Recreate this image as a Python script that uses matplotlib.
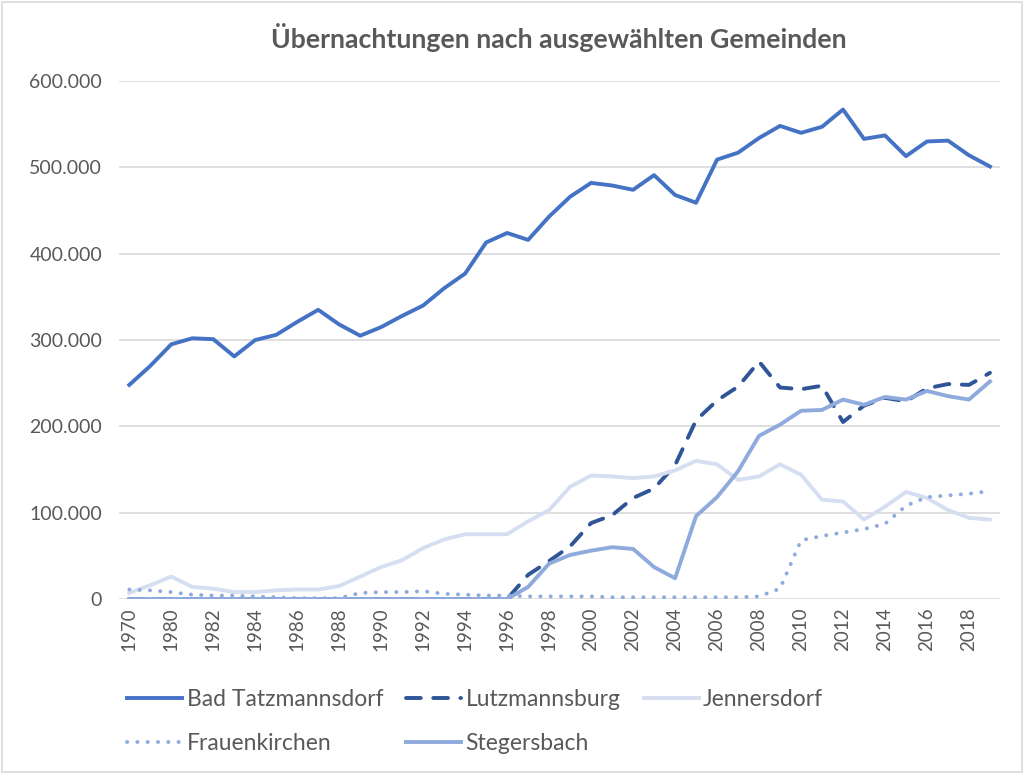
import matplotlib
matplotlib.use("Agg")
import matplotlib.pyplot as plt
from matplotlib.ticker import FuncFormatter
from matplotlib.patches import Rectangle

# --- Data ---
years = ["1970", "1975"] + [str(y) for y in range(1980, 2020)]

bad_tatzmannsdorf = [248000, 270000, 295000, 302000, 301000, 281000, 300000, 306000, 321000, 335000,
                     318000, 305000, 315000, 328000, 340000, 360000, 377000, 413000, 424000, 416000,
                     443000, 466000, 482000, 479000, 474000, 491000, 468000, 459000, 509000, 517000,
                     534000, 548000, 540000, 547000, 567000, 533000, 537000, 513000, 530000, 531000,
                     514000, 501000]

lutzmannsburg = [0, 0, 0, 0, 0, 0, 0, 0, 0, 0,
                 0, 0, 0, 0, 0, 0, 0, 0, 0, 28000,
                 44000, 61000, 88000, 97000, 117000, 128000, 155000, 207000, 230000, 246000,
                 275000, 245000, 243000, 247000, 205000, 224000, 233000, 229000, 244000, 249000,
                 248000, 262000]

jennersdorf = [7000, 16000, 26000, 14000, 12000, 8000, 8000, 10000, 11000, 11000,
               15000, 26000, 37000, 45000, 59000, 69000, 75000, 75000, 75000, 90000,
               103000, 130000, 143000, 142000, 140000, 142000, 149000, 160000, 156000, 138000,
               142000, 156000, 144000, 115000, 113000, 92000, 107000, 124000, 117000, 103000,
               94000, 92000]

frauenkirchen = [11000, 10000, 8000, 5000, 4000, 4000, 3000, 2000, 1000, 1000,
                 1000, 7000, 8000, 8000, 9000, 6000, 5000, 4000, 4000, 3000,
                 3000, 3000, 3000, 2000, 2000, 2000, 2000, 2000, 2000, 2000,
                 3000, 12000, 68000, 73000, 77000, 81000, 87000, 108000, 118000, 120000,
                 122000, 125000]

stegersbach = [0, 0, 0, 0, 0, 0, 0, 0, 0, 0,
               0, 0, 0, 0, 0, 0, 0, 0, 0, 14000,
               41000, 51000, 56000, 60000, 58000, 37000, 24000, 96000, 118000, 148000,
               189000, 202000, 218000, 219000, 231000, 225000, 234000, 231000, 241000, 235000,
               231000, 252000]

title = "Übernachtungen nach ausgewählten Gemeinden"

plt.rcParams['font.family'] = ['Lato', 'DejaVu Sans']
text_col = "#595959"

fig = plt.figure(figsize=(10.24, 7.74), dpi=100)
ax = fig.add_axes([0.116, 0.2261, 0.861, 0.6692])

x = list(range(len(years)))
lw = 2.8
h_bt, = ax.plot(x, bad_tatzmannsdorf, color="#4472C4", lw=lw, label="Bad Tatzmannsdorf",
                solid_joinstyle="round")
h_lu, = ax.plot(x, lutzmannsburg, color="#2F5597", lw=lw, dashes=(3.8, 3.2),
                label="Lutzmannsburg", dash_capstyle="round")
h_je, = ax.plot(x, jennersdorf, color="#D6DFF1", lw=lw, label="Jennersdorf")
h_fr, = ax.plot(x, frauenkirchen, color="#8FAADC", lw=lw, linestyle=(0, (0.05, 2.6)),
                dash_capstyle="round", label="Frauenkirchen")
h_st, = ax.plot(x, stegersbach, color="#8FAADC", lw=lw, label="Stegersbach")

ax.set_xlim(-0.5, len(years) - 0.5)
ax.set_ylim(0, 600000)
ax.set_yticks(range(0, 600001, 100000))
ax.yaxis.set_major_formatter(FuncFormatter(lambda v, p: f"{int(v):,}".replace(",", ".")))
ax.set_xticks(x[::2])
ax.set_xticklabels(years[::2], rotation=90)

ax.grid(axis="y", color="#D9D9D9", lw=1.2)
ax.set_axisbelow(True)
for s in ["top", "right", "left", "bottom"]:
    ax.spines[s].set_visible(False)
ax.tick_params(axis="both", length=0, colors=text_col)
ax.tick_params(axis="y", pad=12, labelsize=14)
ax.tick_params(axis="x", pad=6, labelsize=13.5)

fig.text(0.546, 0.951, title, ha="center", va="center", fontsize=19.2,
         fontweight="bold", color=text_col)

# row-major order for the legend: matplotlib fills columns first
handles = [h_bt, h_fr, h_lu, h_st, h_je]
fig.legend(handles=handles, labels=[h.get_label() for h in handles],
           loc="upper left", bbox_to_anchor=(0.124, 0.110), ncol=3, frameon=False,
           fontsize=16.5, handlelength=2.4, handletextpad=0.2, columnspacing=1.0,
           labelcolor=text_col, borderaxespad=0, borderpad=0, labelspacing=1.0)

fig.patches.append(Rectangle((0.002, 0.003), 0.996, 0.994, transform=fig.transFigure,
                             fill=False, edgecolor="#D9D9D9", lw=1.2))

fig.savefig("out.png", dpi=100)
